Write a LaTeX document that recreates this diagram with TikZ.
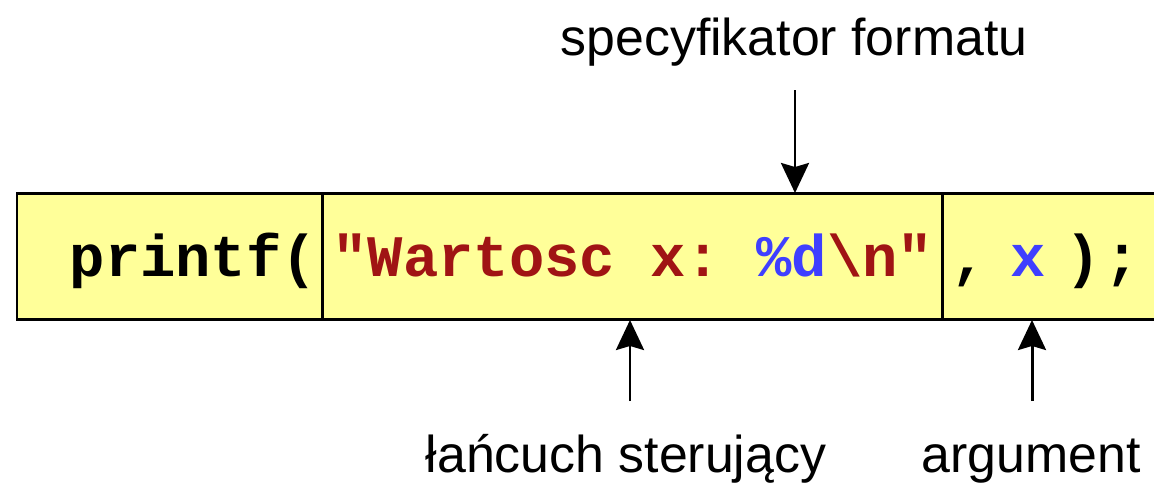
\documentclass[tikz,border=0pt]{standalone}
\usepackage{fontspec}
\setsansfont{Liberation Sans}
\setmonofont{Liberation Mono}
\usetikzlibrary{arrows.meta, positioning}
\definecolor{cyellow}{HTML}{FFFF99}
\definecolor{cred}{HTML}{A01414}
\definecolor{cblue}{HTML}{3F3FFF}
\tikzset{
  every picture/.style={font=\sffamily, line width=1.7pt},
  cell/.style={draw=black, fill=cyellow, outer sep=0pt, inner ysep=0pt,
    minimum height=2.54cm, text height=1.68cm, text depth=0.86cm,
    font=\ttfamily\bfseries\fontsize{33.5}{40}\selectfont},
  arrow/.style={-{Stealth[length=0.6cm, width=0.56cm, inset=0.08cm]}, draw=black, line width=1.7pt},
  label/.style={font=\sffamily\fontsize{29.5}{35}\selectfont, inner sep=0pt, anchor=base},
}

\begin{document}
\begin{tikzpicture}[x=0.02cm, y=-0.02cm]
  \useasboundingbox (0,0) rectangle (1154,485);
  % the three parts of the call
  \node[cell, anchor=north west, minimum width=6.12cm, text width=5.88cm, inner xsep=0.12cm, align=right] (fn) at (17,193) {printf(};
  \node[cell, right=0pt of fn, minimum width=12.4cm] (fmt) {{\color{cred}"Wartosc x: }{\color{cblue}\%d}{\color{cred}\textbackslash n"}};
  \node[cell, right=0pt of fmt, minimum width=4.74cm, text width=4.38cm, inner xsep=0.18cm, align=left] (args) {,\hspace{0.4em}{\color{cblue}x}\hspace{0.33em})\hspace{0.07em};};
  % labels
  \node[label] (spec) at (794,55) {specyfikator formatu};
  \node[label] (ctrl) at (626,472) {łańcuch sterujący};
  \node[label] (arg) at (1031,472) {argument};
  % arrows
  \coordinate (specfoot) at (795,90);
  \coordinate (ctrlfoot) at (630,401);
  \coordinate (argfoot) at (1032,401);
  \draw[arrow] (specfoot) -- (specfoot |- fmt.north);
  \draw[arrow] (ctrlfoot) -- (ctrlfoot |- fmt.south);
  \draw[arrow] (argfoot) -- (argfoot |- args.south);
\end{tikzpicture}
\end{document}
